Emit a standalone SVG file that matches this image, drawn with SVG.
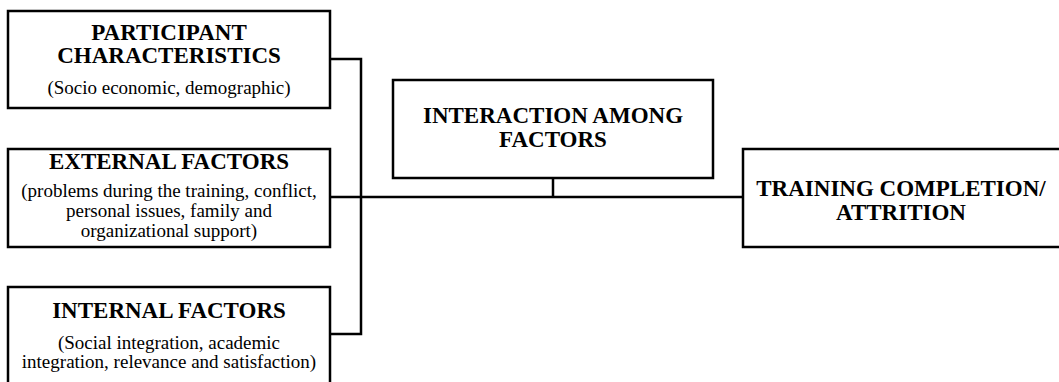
<svg xmlns="http://www.w3.org/2000/svg" width="1059" height="382" viewBox="0 0 1059 382">
<style>
.box{fill:#fff;stroke:#000;stroke-width:2.5}
.t{font-family:"Liberation Serif","Times New Roman",serif;font-weight:bold;font-size:23px;text-anchor:middle;fill:#000}
.s{font-family:"Liberation Serif","Times New Roman",serif;font-size:19px;text-anchor:middle;fill:#000}
.c{fill:none;stroke:#000;stroke-width:2.5}
</style>
<rect width="1059" height="382" fill="#fff"/>
<g id="connectors">
<polyline class="c" points="330,59 361,59 361,334 330,334"/>
<line class="c" x1="330" y1="197" x2="743" y2="197"/>
<line class="c" x1="553" y1="178" x2="553" y2="197"/>
</g>
<g id="participant">
<rect class="box" x="8" y="11" width="322" height="97"/>
<text class="t" x="169" y="40">PARTICIPANT</text>
<text class="t" x="169" y="63">CHARACTERISTICS</text>
<text class="s" x="169" y="94">(Socio economic, demographic)</text>
</g>
<g id="external">
<rect class="box" x="8" y="149" width="322" height="98"/>
<text class="t" x="169" y="169">EXTERNAL FACTORS</text>
<text class="s" x="169" y="197">(problems during the training, conflict,</text>
<text class="s" x="169" y="217">personal issues, family and</text>
<text class="s" x="169" y="237">organizational support)</text>
</g>
<g id="internal">
<rect class="box" x="8" y="287" width="322" height="110"/>
<text class="t" x="169" y="318">INTERNAL FACTORS</text>
<text class="s" x="169" y="349">(Social integration, academic</text>
<text class="s" x="169" y="368">integration, relevance and satisfaction)</text>
</g>
<g id="interaction">
<rect class="box" x="393" y="80" width="320" height="98"/>
<text class="t" x="553" y="123">INTERACTION AMONG</text>
<text class="t" x="553" y="147">FACTORS</text>
</g>
<g id="training">
<rect class="box" x="743" y="149" width="330" height="98"/>
<text class="t" x="901" y="196">TRAINING COMPLETION/</text>
<text class="t" x="901" y="220">ATTRITION</text>
</g>
</svg>
